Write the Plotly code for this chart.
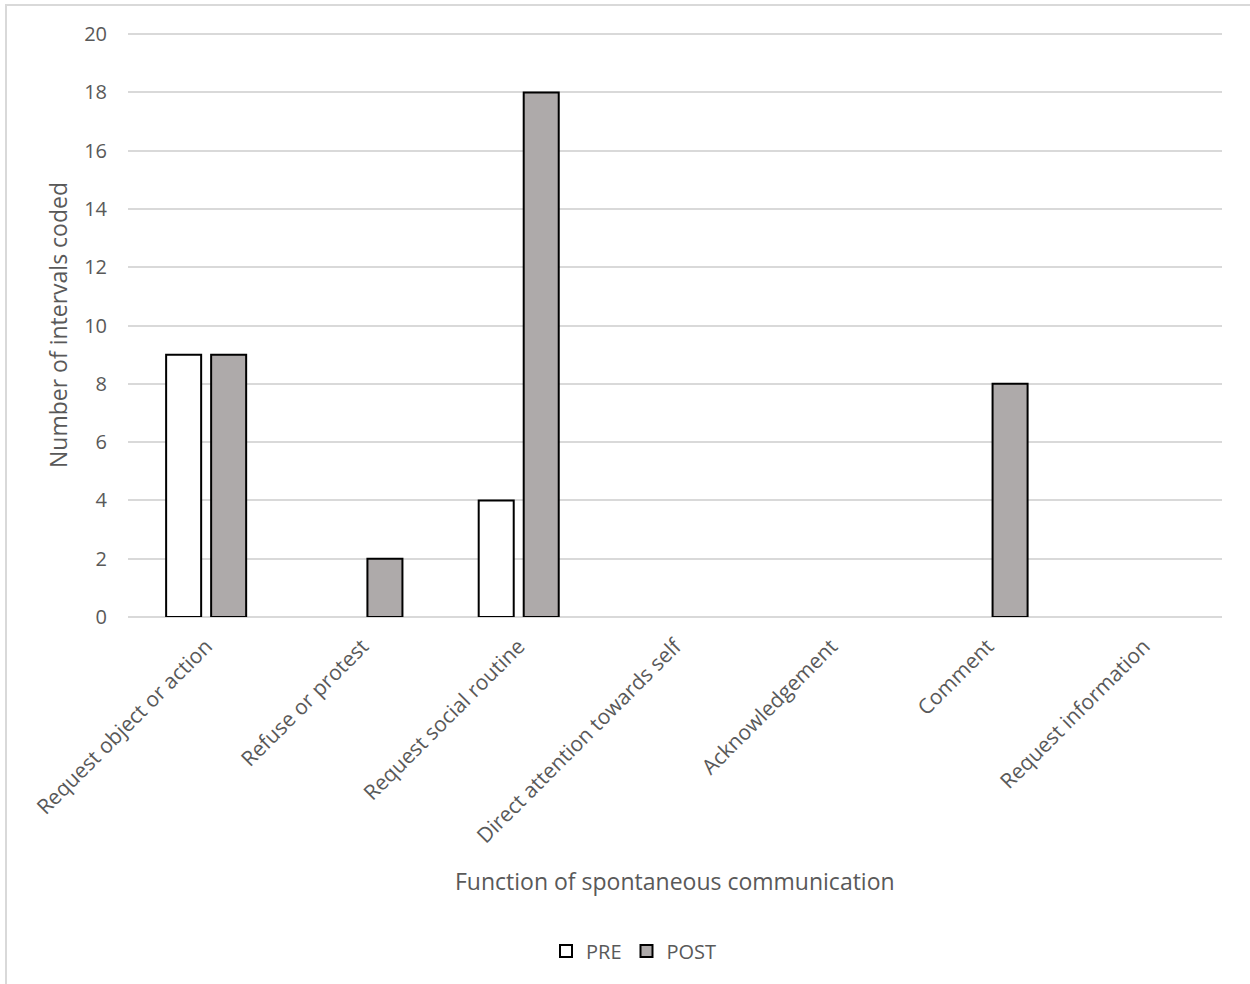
import plotly.graph_objects as go

categories = ["Request object or action", "Refuse or protest", "Request social routine",
              "Direct attention towards self", "Acknowledgement", "Comment", "Request information"]
pre_values = [9, 0, 4, 0, 0, 0, 0]
post_values = [9, 2, 18, 0, 0, 8, 0]
y_ticks = [0, 2, 4, 6, 8, 10, 12, 14, 16, 18, 20]

W, H = 1250, 984
L, R, T, B = 128, 28, 33, 367
pw, ph = W - L - R, H - T - B

def px(x):
    return (x - L) / pw

def py(y):
    return (H - B - y) / ph

FONT = "Open Sans"
GREY = "#595959"

# zero-height bars are not drawn in the reference
pre_plot = [v if v else None for v in pre_values]
post_plot = [v if v else None for v in post_values]

fig = go.Figure()
fig.add_trace(go.Bar(name="PRE", x=categories, y=pre_plot,
                     marker=dict(color="#FFFFFF", line=dict(color="#000000", width=2))))
fig.add_trace(go.Bar(name="POST", x=categories, y=post_plot,
                     marker=dict(color="#AEAAAA", line=dict(color="#000000", width=2))))

fig.update_layout(
    width=W, height=H,
    margin=dict(l=L, r=R, t=T, b=B, pad=0),
    paper_bgcolor="white", plot_bgcolor="white",
    barmode="group", bargap=0.424, bargroupgap=0.222,
    font=dict(family=FONT, color=GREY, size=20),
    showlegend=True,
    legend=dict(orientation="h", x=px(546), xanchor="left", y=py(951), yanchor="middle",
                font=dict(size=20, color=GREY), itemwidth=30, traceorder="normal"),
    xaxis=dict(tickangle=-45, tickfont=dict(size=21, color=GREY), showgrid=False,
               showline=False, ticks="", automargin=False, ticklabelstandoff=12),
    yaxis=dict(range=[0, 20.04], tickvals=y_ticks, tickfont=dict(size=20, color=GREY),
               showgrid=True, gridcolor="#D9D9D9", gridwidth=2, zeroline=True,
               zerolinecolor="#D9D9D9", zerolinewidth=2, showline=False, ticks="",
               ticklabelstandoff=20, automargin=False),
    annotations=[
        dict(text="Number of intervals coded", x=px(58), y=py(325), xref="paper", yref="paper",
             textangle=-90, showarrow=False, font=dict(size=23, color=GREY),
             xanchor="center", yanchor="middle"),
        dict(text="Function of spontaneous communication", x=px(675), y=py(881), xref="paper",
             yref="paper", showarrow=False, font=dict(size=23, color=GREY),
             xanchor="center", yanchor="middle"),
    ],
    shapes=[
        dict(type="rect", xref="paper", yref="paper", x0=px(6), x1=px(1262), y0=py(5), y1=py(1000),
             line=dict(color="#D9D9D9", width=2), fillcolor="rgba(0,0,0,0)", layer="below"),
    ],
)

fig.write_html("out.html")
